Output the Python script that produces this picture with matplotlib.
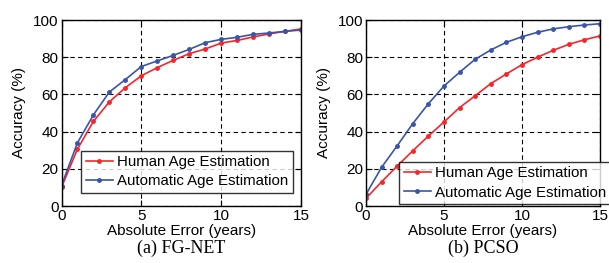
import matplotlib
matplotlib.use("Agg")
import matplotlib.pyplot as plt

plt.rcParams['font.family'] = ['Liberation Sans', 'DejaVu Sans']

errors = list(range(16))
fgnet_human = [10, 30.6, 45.5, 56, 63.6, 70, 74.4, 78.3, 81.9, 84.4, 87.6, 89, 90.9, 92.5, 93.9, 95.2]
fgnet_auto = [11, 34, 49, 61.3, 68, 75, 78, 81, 84.2, 87.8, 89.6, 90.7, 92.3, 93, 93.9, 94.6]
pcso_human = [4.1, 13, 21.5, 29.7, 37.6, 45.2, 52.9, 59.3, 65.8, 71, 76, 80, 83.7, 86.9, 89.4, 91.4]
pcso_auto = [6.3, 20.8, 32.4, 44.3, 55, 64.5, 71.9, 78.9, 83.9, 88, 91, 93.4, 95.2, 96.4, 97.3, 98]
series_labels = ["Human Age Estimation", "Automatic Age Estimation"]
captions = ["(a) FG-NET", "(b) PCSO"]
xticks = [0, 5, 10, 15]
yticks = [0, 20, 40, 60, 80, 100]

W, H = 609, 263
fig = plt.figure(figsize=(W / 100, H / 100), dpi=100)

RED = '#f5262b'
BLUE = '#3a55a8'
FS = 11

panels = [
    (61.5, 301, fgnet_human, fgnet_auto, captions[0], (81, 193)),
    (366, 600, pcso_human, pcso_auto, captions[1], (399, 204)),
]
for (x0, x1, hum, aut, cap, legpos) in panels:
    ax = fig.add_axes([x0 / W, (H - 206) / H, (x1 - x0) / W, 186 / H])
    ax.plot(errors, hum, color=RED, marker='.', markersize=5, lw=1.2,
            label=series_labels[0])
    ax.plot(errors, aut, color=BLUE, marker='.', markersize=5, lw=1.2,
            label=series_labels[1])
    ax.set_xlim(0, 15)
    ax.set_ylim(0, 100)
    ax.set_xticks(xticks)
    ax.set_yticks(yticks)
    ax.tick_params(direction='in', length=4, width=0.8, labelsize=FS, pad=2,
                   top=True, right=True)
    ax.grid(True, color='black', linestyle=(0, (4, 3)), linewidth=0.8)
    for s in ax.spines.values():
        s.set_linewidth(1.0)
        s.set_color('black')
    ax.set_xlabel("Absolute Error (years)", fontsize=FS, labelpad=1)
    ax.set_ylabel("Accuracy (%)", fontsize=FS, labelpad=5)
    leg = ax.legend(loc='lower left', bbox_to_anchor=(legpos[0] / W, (H - legpos[1]) / H),
                    bbox_transform=fig.transFigure, fontsize=10.8, frameon=True,
                    fancybox=False, handlelength=1.8, handletextpad=0.3,
                    borderpad=0.3, labelspacing=0.35, borderaxespad=0)
    leg.get_frame().set_edgecolor('black')
    leg.get_frame().set_linewidth(1.0)
    leg.set_clip_on(False)
    cx = (x0 + x1) / 2
    fig.text(cx / W, (H - 248) / H, cap, ha='center', va='center',
             fontsize=13, family='Liberation Serif')

fig.savefig("out.png", dpi=100)
